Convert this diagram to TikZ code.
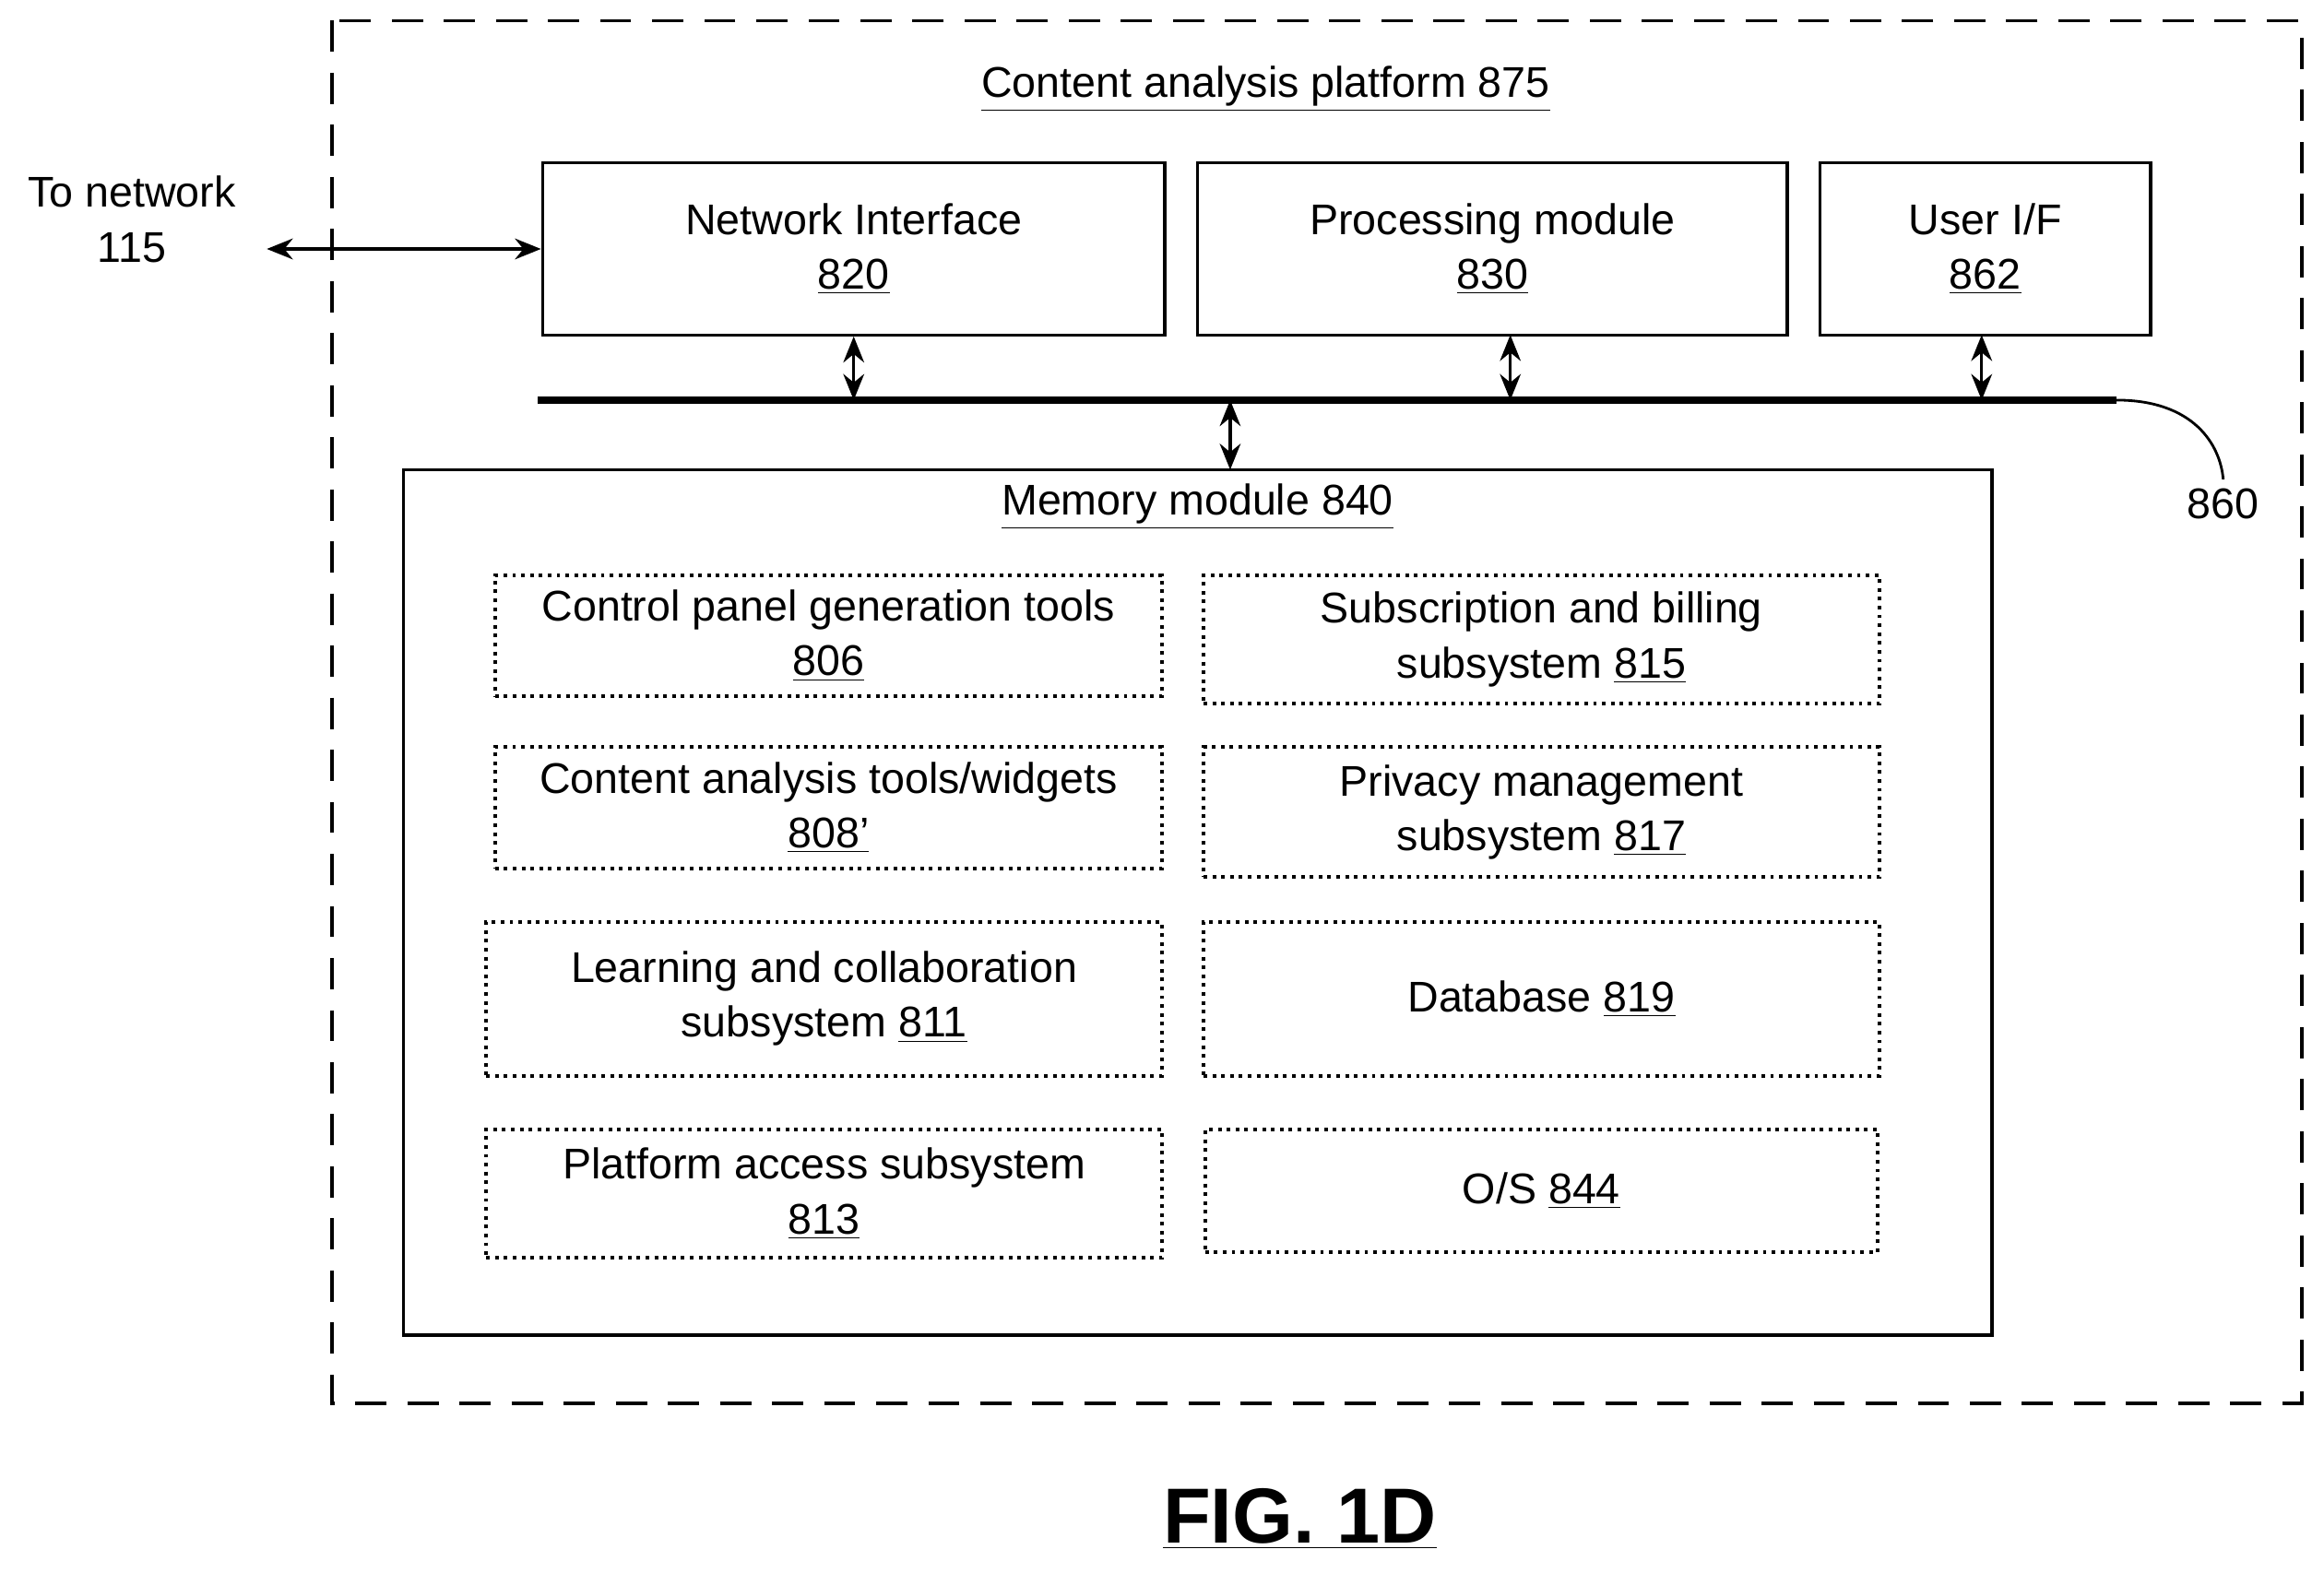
\documentclass[tikz,border=0pt]{standalone}
\usepackage{fontspec}
\setmainfont{Liberation Sans}
\usetikzlibrary{arrows.meta, positioning}
\tikzset{
  unit/.style={draw, line width=1.2pt, align=center, inner sep=0pt},
  tool/.style={draw, dotted, line width=1.4pt, align=center, inner sep=0pt},
  dbl/.style={{Stealth[length=10pt,width=8pt]}-{Stealth[length=10pt,width=8pt]}, line width=1.2pt},
  txt/.style={font=\fontsize{16.5}{21}\selectfont}
}
\newcommand{\ul}[1]{\underline{#1}}
\begin{document}
\begin{tikzpicture}[x=0.02cm, y=-0.02cm, txt]
  \useasboundingbox (0,0) rectangle (1568,1061);
  % Platform frame
  \draw[dashed, dash pattern=on 12pt off 8pt, line width=1.2pt] (224,14) rectangle (1553,947);
  \node (title) at (854,60) {\ul{Content analysis platform 875}};

  % Top units
  \node (netif) [unit, minimum width=8.4cm, minimum height=2.32cm] at (576,168) {Network Interface\\\ul{820}};
  \node (proc) [unit, minimum width=7.96cm, minimum height=2.32cm] at (1007,168) {Processing module\\\ul{830}};
  \node (userif) [unit, minimum width=4.46cm, minimum height=2.32cm] at (1339.5,168) {User I/F\\\ul{862}};

  % External network
  \node (net) [align=center] at (89,148) {To network\\115};
  \coordinate (netend) at (180,168);
  \draw[dbl] (netend) -- (netif.west);

  % Bus
  \coordinate (busl) at (363,270);
  \coordinate (busr) at (1428,270);
  \draw[line width=2.6pt] (busl) -- (busr);
  \node (bus) at (1500,340) {860};
  \draw[line width=1pt] (busr) .. controls (1480,270) and (1498,300) .. (bus.north);

  % Memory module
  \node (mem) [unit, minimum width=21.44cm, minimum height=11.68cm] at (808,609) {};
  \node (memtitle) at (808,342) {\ul{Memory module 840}};

  \coordinate (b1) at (576,270);
  \coordinate (p1) at (1019,226);
  \coordinate (b2) at (1019,270);
  \coordinate (u1) at (1337,226);
  \coordinate (b3) at (1337,270);
  \coordinate (b4) at (830,270);
  \coordinate (m1) at (830,317);
  \draw[dbl] (netif.south) -- (b1);
  \draw[dbl] (p1) -- (b2);
  \draw[dbl] (u1) -- (b3);
  \draw[dbl] (b4) -- (m1);

  % Memory contents
  \node (cp) [tool, minimum width=9cm, minimum height=1.64cm] at (559,429) {Control panel generation tools\\\ul{806}};
  \node (ca) [tool, minimum width=9cm, minimum height=1.64cm] at (559,545) {Content analysis tools/widgets\\\ul{808'}};
  \node (lc) [tool, minimum width=9.12cm, minimum height=2.08cm] at (556,674) {Learning and collaboration\\subsystem \ul{811}};
  \node (pa) [tool, minimum width=9.12cm, minimum height=1.74cm] at (556,805.5) {Platform access subsystem\\\ul{813}};
  \node (sb) [tool, minimum width=9.12cm, minimum height=1.74cm] at (1040,431.5) {Subscription and billing\\subsystem \ul{815}};
  \node (pm) [tool, minimum width=9.12cm, minimum height=1.76cm] at (1040,548) {Privacy management\\subsystem \ul{817}};
  \node (db) [tool, minimum width=9.12cm, minimum height=2.08cm] at (1040,674) {Database \ul{819}};
  \node (os) [tool, minimum width=9.08cm, minimum height=1.66cm] at (1040,803.5) {O/S \ul{844}};

  % Caption
  \node (fig) at (877,1025) {\fontsize{30}{34}\selectfont\bfseries\ul{FIG. 1D}};
\end{tikzpicture}
\end{document}
